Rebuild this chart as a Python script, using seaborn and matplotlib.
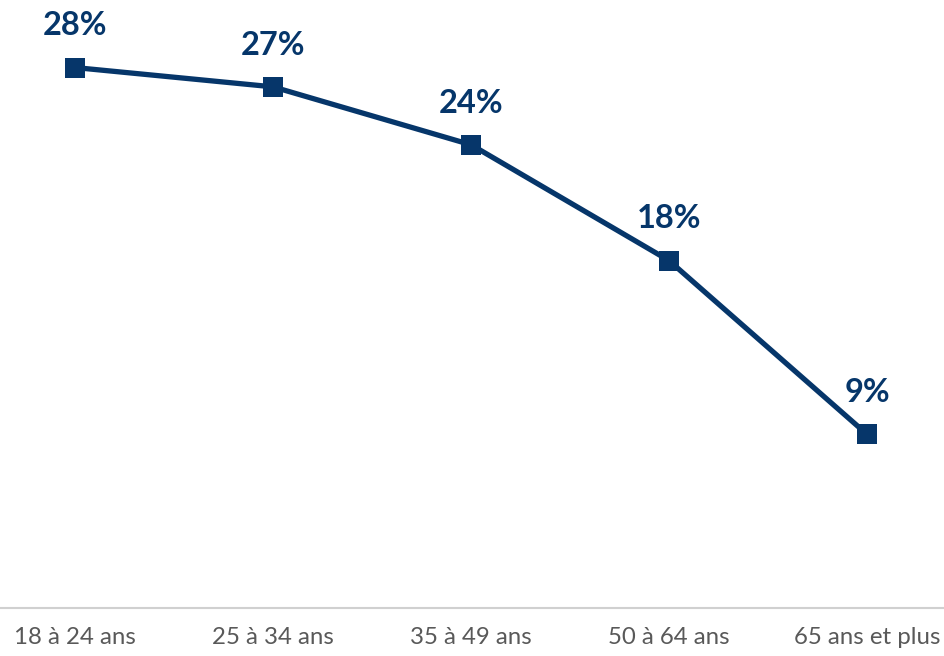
import pandas as pd
import seaborn as sns
import matplotlib.pyplot as plt

# données
tranches = ["18 à 24 ans", "25 à 34 ans", "35 à 49 ans", "50 à 64 ans", "65 ans et plus"]
valeurs = [28, 27, 24, 18, 9]

df = pd.DataFrame({"age": tranches, "pct": valeurs})

sns.set_style("white")
plt.rcParams['font.family'] = ['Lato', 'DejaVu Sans']

navy = "#06366A"

fig = plt.figure(figsize=(9.44, 6.56), dpi=100)
ax = fig.add_axes([0, 0.0732, 1, 0.9268])

sns.lineplot(data=df, x="age", y="pct", ax=ax, color=navy, linewidth=3.8,
             marker="s", markersize=14.5, markeredgewidth=0, sort=False)

# étiquettes des valeurs
for i, v in enumerate(valeurs):
    ax.annotate(f"{v}%", (i, v), xytext=(0, 30), textcoords="offset points",
                ha="center", va="center", fontsize=23.5, fontweight="bold", color=navy)

ax.set_xlim(-0.379, 4.389)
ax.set_ylim(0, 31.5)
ax.set_xlabel("")
ax.set_ylabel("")
ax.set_yticks([])

for s in ["top", "left", "right"]:
    ax.spines[s].set_visible(False)
ax.spines["bottom"].set_color("#D0D0D0")
ax.spines["bottom"].set_linewidth(1.5)
ax.tick_params(axis="x", length=0, pad=14, labelsize=17.3, labelcolor="#595959")

plt.savefig("out.png", dpi=100)
